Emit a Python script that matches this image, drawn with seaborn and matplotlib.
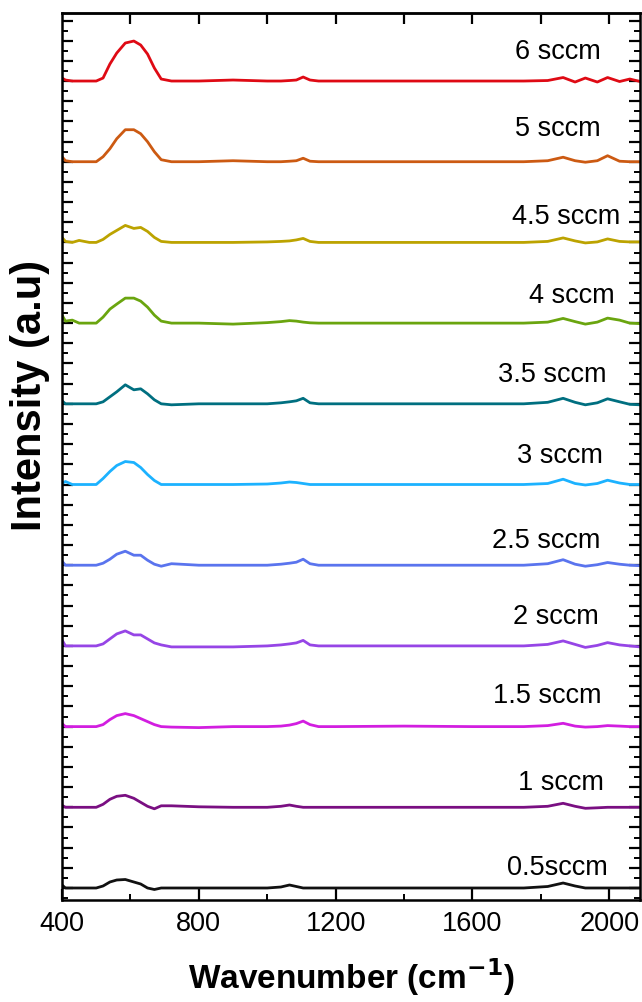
import numpy as np
import pandas as pd
import matplotlib
matplotlib.use('Agg')
import matplotlib.pyplot as plt
from matplotlib.ticker import MultipleLocator
import seaborn as sns

# wavenumber grid (cm-1) and spectra (a.u., before stacking)
wavenumber = [400, 410, 430, 450, 480, 500, 520, 540, 560, 585, 610, 630, 650, 670, 690, 720,
              800, 900, 1000, 1040, 1065, 1085, 1105, 1125, 1150, 1200, 1400, 1600,
              1750, 1820, 1865, 1900, 1930, 1965, 1995, 2030, 2060, 2090]

flows = ['0.5sccm', '1 sccm', '1.5 sccm', '2 sccm', '2.5 sccm', '3 sccm',
         '3.5 sccm', '4 sccm', '4.5 sccm', '5 sccm', '6 sccm']

s05 = [3, 0, 0, 0, 0, 0, 2, 6, 8, 8.5, 6, 4, 0, -1.5, 0, 0,
       0, 0, 0, 1, 3, 1.5, 0, 0, 0, 0, 0, 0,
       0, 1.5, 5, 2, 0, 0, 0, 0, 0, 0]
s1 = [2, 0, 0, 0, 0, 0, 3, 8, 11, 12, 9, 5, 1, -1.5, 1.5, 1.5,
      0.5, 0, 0, 1, 2.3, 1, 0, 0, 0, 0, 0, 0,
      0, 1, 4, 1, -1, -0.5, 0, 0, 0, 0]
s15 = [3, 0, 0, 0, 0, 0, 2, 7, 11, 13, 11, 8, 5, 2, 0, -0.5,
       -1, 0, 0, 0.5, 1.5, 3, 5.5, 2, 0, 0, 0.5, 0,
       0, 1, 3.3, 0.5, -0.5, 0, 1, 0.5, 0, 0]
s2 = [6, 0, 0, 0, 0, 0, 2, 7, 12, 15, 11, 11, 7, 3, 1, -1,
      -1, -1, 0, 1, 2, 3, 5.5, 1, 0, 0, 0, 0,
      0, 1.5, 5, 1.5, -1.5, 0.5, 3.3, 1, 0, -1]
s25 = [4, 0, 0, 0, 0, 0, 2, 6, 11, 14, 10, 10, 5, 1, -1, 1.5,
       0, 0, 0, 1, 2, 3, 6, 1.5, 0, 0, 0, 0,
       0, 1.5, 5.5, 1, -1, 0.5, 2.7, 1, 0, -0.5]
s3 = [1, 3, 0, 0, 0, 0, 6, 13, 19, 23, 22, 17, 10, 4, 0, 0,
      0, 0, 0.5, 1.5, 2.5, 2, 1, 0, 0, 0, 0, 0,
      0, 1, 5.3, 1, -0.5, 1, 4.3, 1.5, 0, 0]
s35 = [3, 0, 0, 0, 0, 0, 2, 7, 12, 19, 14, 15, 10, 4, 0, -1,
       0, 0, 0, 1, 2, 3, 5.5, 1, 0, 0, 0, 0,
       0, 1.5, 5.5, 1.5, -1, 1, 5, 2, -0.5, -1]
s4 = [8, 2, 3, 0, 0, 0, 6, 14, 19, 25, 25, 22, 16, 8, 2, 0,
      0, -1, 0.5, 1.5, 2.5, 2, 1, 0.3, 0, 0, 0, 0,
      0, 1, 4.7, 1.5, -1, 1, 5, 3, 0, -0.5]
s45 = [5, 1, 0, 2, 0, 0, 3, 8, 12, 17, 14, 15, 11, 5, 1, 0,
       0, 0, 0.5, 1, 1.5, 2.5, 4, 1, 0, 0, 0, 0,
       0, 1, 4.5, 1.5, -0.5, 0.5, 3.5, 1, 0.5, 0.5]
s5 = [5, 1, 0, 0, 0, 0, 5, 13, 23, 32, 32, 28, 20, 10, 2, 0,
      0, 1, 0, 0, 0.5, 1, 3.5, 0.5, 0, 0, 0, 0,
      0, 1, 4.5, 1, -0.5, 1, 6, 0.5, 0, 0]
s6 = [3, 1, 0, 0, 0, 0, 3, 17, 28, 38, 40, 36, 27, 13, 2, 0,
      0, 1, 0, 0, 0.5, 1, 4, 1, 0, 0, 0, 0,
      0, 0.5, 3.5, -1, 3, -1, 3.5, -0.5, 2, -0.5]

spectra = [s05, s1, s15, s2, s25, s3, s35, s4, s45, s5, s6]

colors = ['#111111', '#7a0f82', '#d21ee0', '#9645e6', '#5a74ee', '#1cb2ff',
          '#006f80', '#6aa50f', '#bca300', '#cc5a12', '#df0a14']

STEP = 80.7  # vertical offset between stacked spectra

rows = []
for i, (name, vals) in enumerate(zip(flows, spectra)):
    for w, v in zip(wavenumber, vals):
        rows.append({'wavenumber': w, 'intensity': v + i * STEP, 'flow': name})
df = pd.DataFrame(rows)

sns.set_style('ticks')
plt.rcParams['font.family'] = ['Liberation Sans', 'DejaVu Sans']
for key in ['text.color', 'axes.labelcolor', 'xtick.color', 'ytick.color']:
    plt.rcParams[key] = 'black'

fig = plt.figure(figsize=(6.42, 10.02), dpi=100)
ax = fig.add_axes([0.0966, 0.1018, 0.9004, 0.8852])

sns.lineplot(data=df, x='wavenumber', y='intensity', hue='flow',
             palette=dict(zip(flows, colors)), hue_order=flows,
             legend=False, linewidth=2.0, ax=ax)

# labels above each trace
label_x = [1847, 1860, 1818, 1844, 1815, 1856, 1832, 1890, 1873, 1850, 1850]
label_dy = [20, 24, 31, 29, 24, 29, 29, 27, 25, 33, 29]
for i, name in enumerate(flows):
    ax.text(label_x[i], i * STEP + label_dy[i], name, ha='center', va='center',
            fontsize=19.5, color='black')

ax.set_xlim(400, 2090)
ax.set_ylim(-12, 875)
ax.xaxis.set_major_locator(MultipleLocator(400))
ax.xaxis.set_minor_locator(MultipleLocator(200))
ax.yaxis.set_major_locator(MultipleLocator(STEP / 4))
ax.yaxis.set_minor_locator(MultipleLocator(STEP / 8))

ax.tick_params(axis='both', which='major', direction='in', length=8, width=1.6,
               labelsize=19.5, right=True, pad=8)
ax.tick_params(axis='both', which='minor', direction='in', length=4.5, width=1.4,
               right=True)
ax.tick_params(axis='y', which='both', labelleft=False)

top = ax.secondary_xaxis('top')
top.set_xticks(np.arange(600, 2090, 200))
top.tick_params(direction='in', length=8, width=1.6, labeltop=False)
top.spines['top'].set_linewidth(1.8)

for sp in ax.spines.values():
    sp.set_linewidth(1.8)
    sp.set_color('black')

ax.set_xlabel('Wavenumber (cm$^{\\mathbf{-1}}$)', fontsize=24, fontweight='bold', labelpad=14)
ax.set_ylabel('Intensity (a.u)', fontsize=30, fontweight='bold')
ax.yaxis.set_label_coords(-0.021, 0.569)

fig.savefig('out.png', dpi=100)
